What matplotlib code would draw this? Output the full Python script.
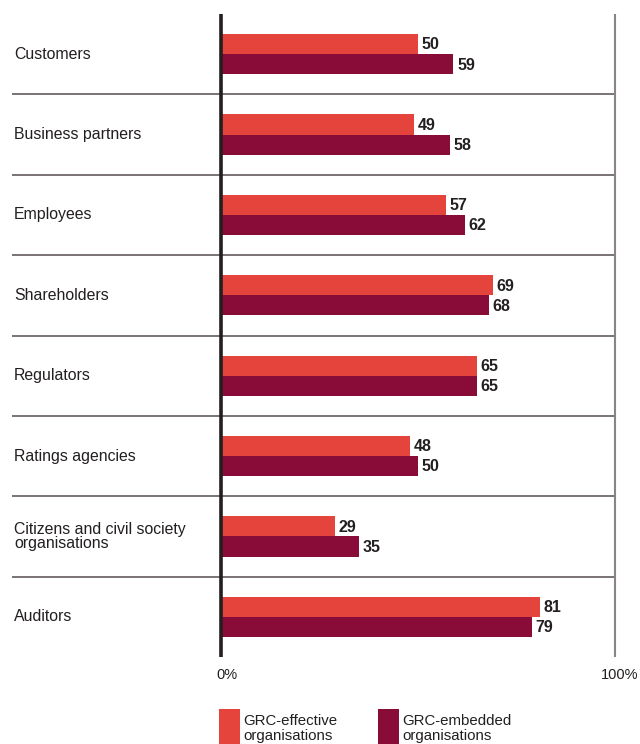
import matplotlib
matplotlib.use("Agg")
import matplotlib.pyplot as plt
from matplotlib.patches import Rectangle

categories = ["Customers", "Business partners", "Employees", "Shareholders",
              "Regulators", "Ratings agencies",
              "Citizens and civil society\norganisations", "Auditors"]
effective = [50, 49, 57, 69, 65, 48, 29, 81]
embedded = [59, 58, 62, 68, 65, 50, 35, 79]
series_names = ["GRC-effective\norganisations", "GRC-embedded\norganisations"]
tick_labels = ["0%", "100%"]

RED = "#E4443C"
PURPLE = "#890B37"
GRAY = "#6e6868"
TXT = "#231f20"
FAM = ["Liberation Sans", "DejaVu Sans"]

W, H = 640, 744
fig = plt.figure(figsize=(6.4, 7.44), dpi=100)
x0, x1 = 221, 615
y0, y1 = 14, 657
ax = fig.add_axes([x0 / W, 1 - y1 / H, (x1 - x0) / W, (y1 - y0) / H])
ax.set_xlim(0, 100)
ax.set_ylim(len(categories), 0)
ax.axis("off")

num_font = dict(family=FAM, fontweight="bold", fontsize=11.5, color=TXT)
for i, (cat, a, b) in enumerate(zip(categories, effective, embedded)):
    ax.barh(i + 0.375, a, height=0.25, color=RED, linewidth=0)
    ax.barh(i + 0.625, b, height=0.25, color=PURPLE, linewidth=0)
    ax.text(a + 0.9, i + 0.385, str(a), va="center", ha="left", **num_font)
    ax.text(b + 0.9, i + 0.635, str(b), va="center", ha="left", **num_font)
    ax.text(-52.5, i + 0.5, cat, va="center", ha="left", fontsize=11.4,
            color=TXT, family=FAM, linespacing=0.92)
    if i > 0:
        ax.plot([-53, 100], [i, i], color=GRAY, lw=1.3, clip_on=False,
                solid_capstyle="butt")

ax.plot([0, 0], [0, len(categories)], color=TXT, lw=2.6, clip_on=False,
        solid_capstyle="butt", zorder=5)
ax.plot([100, 100], [0, len(categories)], color="#8a8585", lw=1.5, clip_on=False,
        solid_capstyle="butt")

ax.text(1.4, 8.23, tick_labels[0], ha="center", va="center", fontsize=10.5,
        color=TXT, family=FAM)
ax.text(101.3, 8.23, tick_labels[1], ha="center", va="center", fontsize=10.5,
        color=TXT, family=FAM)

# legend
for (lx, col, name) in [(219, RED, series_names[0]), (378, PURPLE, series_names[1])]:
    fig.patches.append(Rectangle((lx / W, 0), 21 / W, (744 - 709) / H,
                                 transform=fig.transFigure, color=col, lw=0))
    fig.text((lx + 24) / W, 1 - 714 / H, name, ha="left", va="top", fontsize=10.8,
             color=TXT, family=FAM, linespacing=1.08)

fig.savefig("out.png", dpi=100)
